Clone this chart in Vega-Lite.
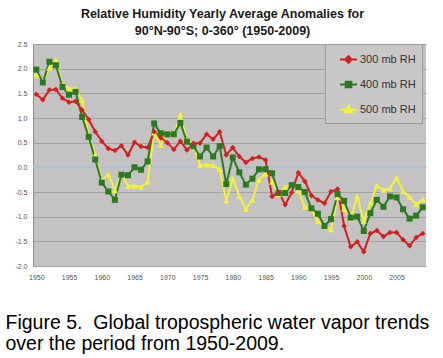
{
  "$schema": "https://vega.github.io/schema/vega-lite/v6.json",
  "width": 393,
  "height": 222,
  "autosize": "none",
  "padding": {"left": 33, "top": 44, "right": 17, "bottom": 92},
  "background": "white",
  "title": {
    "text": ["Relative Humidity Yearly Average Anomalies for", "90°N-90°S; 0-360° (1950-2009)"],
    "font": "Liberation Sans",
    "fontSize": 12.5,
    "fontWeight": "bold",
    "color": "#1a1a1a",
    "anchor": "middle",
    "frame": "group",
    "dx": -7,
    "offset": 3,
    "lineHeight": 17
  },
  "config": {
    "view": {"fill": "#c4c2c2", "stroke": null},
    "axis": {"labelFont": "Liberation Sans", "labelColor": "#555555", "labelFontSize": 7}
  },
  "data": {
    "values": [
      {"year": 1950, "300 mb RH": 1.48, "400 mb RH": 1.98, "500 mb RH": 1.88},
      {"year": 1951, "300 mb RH": 1.37, "400 mb RH": 1.72, "500 mb RH": 1.75},
      {"year": 1952, "300 mb RH": 1.57, "400 mb RH": 2.14, "500 mb RH": 2.02},
      {"year": 1953, "300 mb RH": 1.58, "400 mb RH": 2.07, "500 mb RH": 2.17},
      {"year": 1954, "300 mb RH": 1.40, "400 mb RH": 1.63, "500 mb RH": 1.67},
      {"year": 1955, "300 mb RH": 1.32, "400 mb RH": 1.47, "500 mb RH": 1.60},
      {"year": 1956, "300 mb RH": 1.34, "400 mb RH": 1.53, "500 mb RH": 1.60},
      {"year": 1957, "300 mb RH": 1.16, "400 mb RH": 1.02, "500 mb RH": 1.36},
      {"year": 1958, "300 mb RH": 0.97, "400 mb RH": 0.62, "500 mb RH": 0.65},
      {"year": 1959, "300 mb RH": 0.72, "400 mb RH": 0.16, "500 mb RH": 0.25},
      {"year": 1960, "300 mb RH": 0.53, "400 mb RH": -0.31, "500 mb RH": -0.27},
      {"year": 1961, "300 mb RH": 0.38, "400 mb RH": -0.49, "500 mb RH": -0.14},
      {"year": 1962, "300 mb RH": 0.34, "400 mb RH": -0.66, "500 mb RH": -0.47},
      {"year": 1963, "300 mb RH": 0.44, "400 mb RH": -0.15, "500 mb RH": -0.12},
      {"year": 1964, "300 mb RH": 0.25, "400 mb RH": -0.16, "500 mb RH": -0.38},
      {"year": 1965, "300 mb RH": 0.51, "400 mb RH": 0.00, "500 mb RH": -0.38},
      {"year": 1966, "300 mb RH": 0.42, "400 mb RH": -0.05, "500 mb RH": -0.40},
      {"year": 1967, "300 mb RH": 0.40, "400 mb RH": 0.12, "500 mb RH": -0.30},
      {"year": 1968, "300 mb RH": 0.72, "400 mb RH": 0.89, "500 mb RH": 0.70},
      {"year": 1969, "300 mb RH": 0.60, "400 mb RH": 0.69, "500 mb RH": 0.45},
      {"year": 1970, "300 mb RH": 0.50, "400 mb RH": 0.67, "500 mb RH": 0.70},
      {"year": 1971, "300 mb RH": 0.36, "400 mb RH": 0.67, "500 mb RH": 0.66},
      {"year": 1972, "300 mb RH": 0.53, "400 mb RH": 0.90, "500 mb RH": 1.07},
      {"year": 1973, "300 mb RH": 0.35, "400 mb RH": 0.52, "500 mb RH": 0.55},
      {"year": 1974, "300 mb RH": 0.49, "400 mb RH": 0.43, "500 mb RH": 0.45},
      {"year": 1975, "300 mb RH": 0.49, "400 mb RH": 0.22, "500 mb RH": 0.04},
      {"year": 1976, "300 mb RH": 0.67, "400 mb RH": 0.40, "500 mb RH": 0.05},
      {"year": 1977, "300 mb RH": 0.57, "400 mb RH": 0.22, "500 mb RH": 0.04},
      {"year": 1978, "300 mb RH": 0.72, "400 mb RH": 0.43, "500 mb RH": -0.04},
      {"year": 1979, "300 mb RH": 0.25, "400 mb RH": -0.34, "500 mb RH": -0.68},
      {"year": 1980, "300 mb RH": 0.40, "400 mb RH": 0.20, "500 mb RH": -0.23},
      {"year": 1981, "300 mb RH": 0.22, "400 mb RH": -0.10, "500 mb RH": -0.58},
      {"year": 1982, "300 mb RH": 0.10, "400 mb RH": -0.35, "500 mb RH": -0.85},
      {"year": 1983, "300 mb RH": 0.18, "400 mb RH": -0.23, "500 mb RH": -0.66},
      {"year": 1984, "300 mb RH": 0.21, "400 mb RH": -0.04, "500 mb RH": -0.25},
      {"year": 1985, "300 mb RH": 0.15, "400 mb RH": -0.04, "500 mb RH": -0.13},
      {"year": 1986, "300 mb RH": -0.59, "400 mb RH": -0.12, "500 mb RH": -0.30},
      {"year": 1987, "300 mb RH": -0.50, "400 mb RH": -0.52, "500 mb RH": -0.55},
      {"year": 1988, "300 mb RH": -0.76, "400 mb RH": -0.52, "500 mb RH": -0.40},
      {"year": 1989, "300 mb RH": -0.51, "400 mb RH": -0.36, "500 mb RH": -0.35},
      {"year": 1990, "300 mb RH": -0.11, "400 mb RH": -0.40, "500 mb RH": -0.47},
      {"year": 1991, "300 mb RH": -0.28, "400 mb RH": -0.50, "500 mb RH": -0.80},
      {"year": 1992, "300 mb RH": -0.57, "400 mb RH": -0.83, "500 mb RH": -0.85},
      {"year": 1993, "300 mb RH": -0.66, "400 mb RH": -0.94, "500 mb RH": -1.10},
      {"year": 1994, "300 mb RH": -0.73, "400 mb RH": -1.19, "500 mb RH": -1.20},
      {"year": 1995, "300 mb RH": -0.49, "400 mb RH": -1.05, "500 mb RH": -1.26},
      {"year": 1996, "300 mb RH": -0.44, "400 mb RH": -0.54, "500 mb RH": -0.61},
      {"year": 1997, "300 mb RH": -1.19, "400 mb RH": -0.68, "500 mb RH": -0.84},
      {"year": 1998, "300 mb RH": -1.61, "400 mb RH": -1.02, "500 mb RH": -1.04},
      {"year": 1999, "300 mb RH": -1.51, "400 mb RH": -1.00, "500 mb RH": -0.59},
      {"year": 2000, "300 mb RH": -1.71, "400 mb RH": -1.29, "500 mb RH": -1.09},
      {"year": 2001, "300 mb RH": -1.34, "400 mb RH": -0.93, "500 mb RH": -0.72},
      {"year": 2002, "300 mb RH": -1.28, "400 mb RH": -0.66, "500 mb RH": -0.37},
      {"year": 2003, "300 mb RH": -1.40, "400 mb RH": -0.80, "500 mb RH": -0.46},
      {"year": 2004, "300 mb RH": -1.32, "400 mb RH": -0.59, "500 mb RH": -0.43},
      {"year": 2005, "300 mb RH": -1.32, "400 mb RH": -0.61, "500 mb RH": -0.21},
      {"year": 2006, "300 mb RH": -1.47, "400 mb RH": -0.85, "500 mb RH": -0.48},
      {"year": 2007, "300 mb RH": -1.59, "400 mb RH": -1.04, "500 mb RH": -0.60},
      {"year": 2008, "300 mb RH": -1.42, "400 mb RH": -0.98, "500 mb RH": -0.75},
      {"year": 2009, "300 mb RH": -1.34, "400 mb RH": -0.81, "500 mb RH": -0.65}
    ]
  },
  "transform": [
    {"fold": ["500 mb RH", "400 mb RH", "300 mb RH"], "as": ["series", "value"]}
  ],
  "encoding": {
    "x": {
      "field": "year",
      "type": "quantitative",
      "scale": {"domain": [1949.5, 2009.5], "nice": false, "zero": false},
      "axis": {
        "values": [1950, 1955, 1960, 1965, 1970, 1975, 1980, 1985, 1990, 1995, 2000, 2005],
        "format": "d",
        "grid": false,
        "domain": false,
        "ticks": false,
        "labelPadding": 7,
        "title": ["Figure 5.\u00a0 Global tropospheric water vapor trends", "over the period from 1950-2009."],
        "titleFont": "Liberation Sans",
        "titleFontSize": 19.5,
        "titleFontWeight": "normal",
        "titleColor": "#000000",
        "titleAlign": "left",
        "titleAnchor": "start",
        "titleBaseline": "alphabetic",
        "titleX": -28,
        "titleY": 62,
        "titleLineHeight": 21.5
      }
    },
    "y": {
      "field": "value",
      "type": "quantitative",
      "scale": {"domain": [-2, 2.5], "nice": false, "zero": false},
      "axis": {
        "values": [-2, -1.5, -1, -0.5, 0, 0.5, 1, 1.5, 2, 2.5],
        "labelExpr": "replace(format(datum.value, '.1f'), '−', '-')",
        "grid": true,
        "gridColor": "#a2a2a2",
        "gridWidth": 1,
        "domain": true,
        "domainColor": "#8e8e8e",
        "ticks": false,
        "labelPadding": 6,
        "title": null
      }
    },
    "color": {
      "field": "series",
      "type": "nominal",
      "scale": {"domain": ["300 mb RH", "400 mb RH", "500 mb RH"], "range": ["#d21f1f", "#2b7a22", "#f2f23c"]},
      "legend": {
        "orient": "none",
        "legendX": 292,
        "legendY": 0,
        "title": null,
        "padding": 6,
        "symbolOffset": 8,
        "fillColor": "#c9c7c7",
        "strokeColor": "#9a9a9a",
        "labelFont": "Liberation Sans",
        "labelFontSize": 11,
        "labelColor": "#333333",
        "labelOffset": 2,
        "rowPadding": 8,
        "symbolSize": 289,
        "symbolStrokeWidth": 2,
        "encode": {
          "symbols": {
            "update": {
              "shape": {"signal": "datum.value == '300 mb RH' ? 'M-1,0H1M-0.38,0L0,-0.38L0.38,0L0,0.38Z' : datum.value == '400 mb RH' ? 'M-1,0H1M-0.33,-0.33H0.33V0.33H-0.33Z' : 'M-1,0H1M-0.42,0.34L0,-0.42L0.42,0.34Z'"},
              "strokeWidth": {"value": 2},
              "opacity": {"value": 1}
            }
          }
        }
      }
    }
  },
  "layer": [
    {
      "mark": {"type": "rule", "color": "#a9c2da", "strokeWidth": 1.5},
      "encoding": {"y": {"datum": 0}, "x": {"value": 0}, "x2": {"value": 393}, "color": {"value": "#a9c2da"}}
    },
    {
      "mark": {"type": "line", "strokeWidth": 2}
    },
    {
      "transform": [{"filter": {"field": "series", "equal": "500 mb RH"}}],
      "mark": {"type": "point", "filled": true, "opacity": 1, "shape": "triangle-up", "size": 40}
    },
    {
      "transform": [{"filter": {"field": "series", "equal": "400 mb RH"}}],
      "mark": {"type": "point", "filled": true, "opacity": 1, "shape": "square", "size": 36}
    },
    {
      "transform": [{"filter": {"field": "series", "equal": "300 mb RH"}}],
      "mark": {"type": "point", "filled": true, "opacity": 1, "shape": "diamond", "size": 30}
    }
  ]
}
